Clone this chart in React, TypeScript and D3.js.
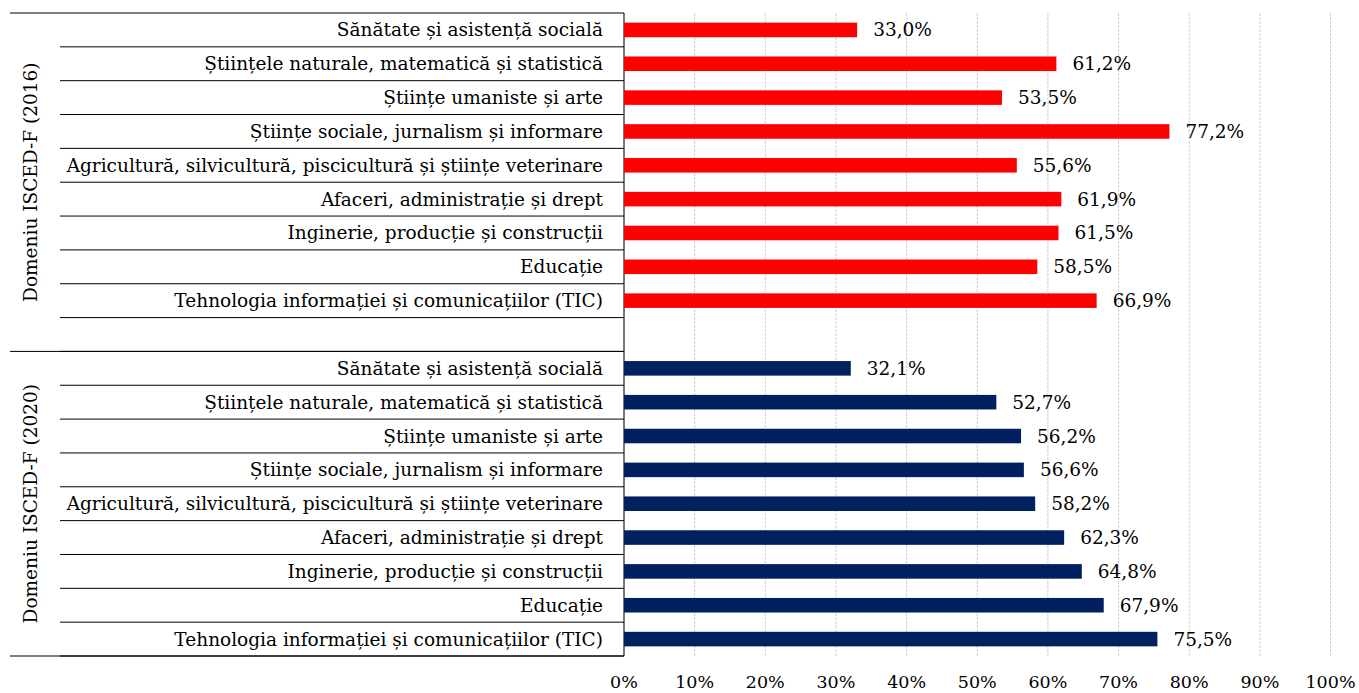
import React from 'react';
import { scaleLinear, scaleBand, format } from 'd3';

const categories = [
  'Sănătate și asistență socială',
  'Științele naturale, matematică și statistică',
  'Științe umaniste și arte',
  'Științe sociale, jurnalism și informare',
  'Agricultură, silvicultură, piscicultură și științe veterinare',
  'Afaceri, administrație și drept',
  'Inginerie, producție și construcții',
  'Educație',
  'Tehnologia informației și comunicațiilor (TIC)',
];
const groups = ['Domeniu ISCED-F (2016)', 'Domeniu ISCED-F (2020)'];
const values2016 = [33.0, 61.2, 53.5, 77.2, 55.6, 61.9, 61.5, 58.5, 66.9];
const values2020 = [32.1, 52.7, 56.2, 56.6, 58.2, 62.3, 64.8, 67.9, 75.5];
const colors = ['#ff0000', '#002060'];
const xTicks = [0, 10, 20, 30, 40, 50, 60, 70, 80, 90, 100];

const W = 1359;
const H = 693;
const FONT = '"DejaVu Serif", serif';

// rows: 9 for 2016, an empty one, then 9 for 2020
const rows = [
  ...categories.map((c, i) => ({ key: 'a' + i, label: c, value: values2016[i], g: 0 })),
  { key: 'gap', label: '', value: null, g: 0 },
  ...categories.map((c, i) => ({ key: 'b' + i, label: c, value: values2020[i], g: 1 })),
];

const App = () => {
  const top = 13;
  const bottom = 656;
  const x = scaleLinear().domain([0, 100]).range([624, 1330.5]);
  const y = scaleBand().domain(rows.map((r) => r.key)).range([top, bottom]).padding(0);
  const bw = y.bandwidth();
  const barH = bw * 0.43;
  const fmt = (v) => format('.1f')(v).replace('.', ',') + '%';

  const groupStart = [y('a0'), y('b0')];
  const groupEnd = [y('b0'), bottom];

  return (
    <svg width={W} height={H} style={{ position: 'absolute', left: 0, top: 0 }}>
      <rect width={W} height={H} fill='#fff' />
      {xTicks.map((t) => (
        <line key={'g' + t} x1={x(t)} x2={x(t)} y1={top} y2={bottom}
          stroke='#d0d0d0' strokeWidth={1} strokeDasharray='3,1' />
      ))}
      {rows.map((r) => (
        <line key={'s' + r.key} x1={60} x2={624} y1={y(r.key) + bw} y2={y(r.key) + bw}
          stroke='#000' strokeWidth={1} />
      ))}
      {groupStart.map((s, i) => (
        <line key={'gl' + i} x1={10} x2={624} y1={s} y2={s} stroke='#000' strokeWidth={1} />
      ))}
      <line x1={10} x2={624} y1={bottom} y2={bottom} stroke='#000' strokeWidth={1} />
      <line x1={624} x2={624} y1={top} y2={bottom} stroke='#000' strokeWidth={1} />
      {rows.filter((r) => r.value !== null).map((r) => (
        <g key={'b' + r.key}>
          <rect x={x(0)} y={y(r.key) + (bw - barH) / 2} width={x(r.value) - x(0)} height={barH}
            fill={colors[r.g]} />
          <text x={x(r.value) + 16} y={y(r.key) + bw / 2} dy='0.35em' fontSize={18.5}
            fontFamily={FONT} fill='#000'>{fmt(r.value)}</text>
        </g>
      ))}
      {rows.map((r) => (
        <text key={'l' + r.key} x={603} y={y(r.key) + bw / 2} dy='0.35em' textAnchor='end'
          fontSize={18.5} fontFamily={FONT} fill='#000'>{r.label}</text>
      ))}
      {groups.map((g, i) => {
        const cy = (groupStart[i] + groupEnd[i]) / 2;
        return (
          <text key={g} transform={`translate(31,${cy}) rotate(-90)`} textAnchor='middle'
            dy='0.35em' fontSize={18.5} fontFamily={FONT} fill='#000'>{g}</text>
        );
      })}
      {xTicks.map((t) => (
        <text key={'t' + t} x={x(t)} y={682} dy='0.35em' textAnchor='middle' fontSize={17.5}
          fontFamily={FONT} fill='#000'>{t + '%'}</text>
      ))}
    </svg>
  );
};

export default App;
